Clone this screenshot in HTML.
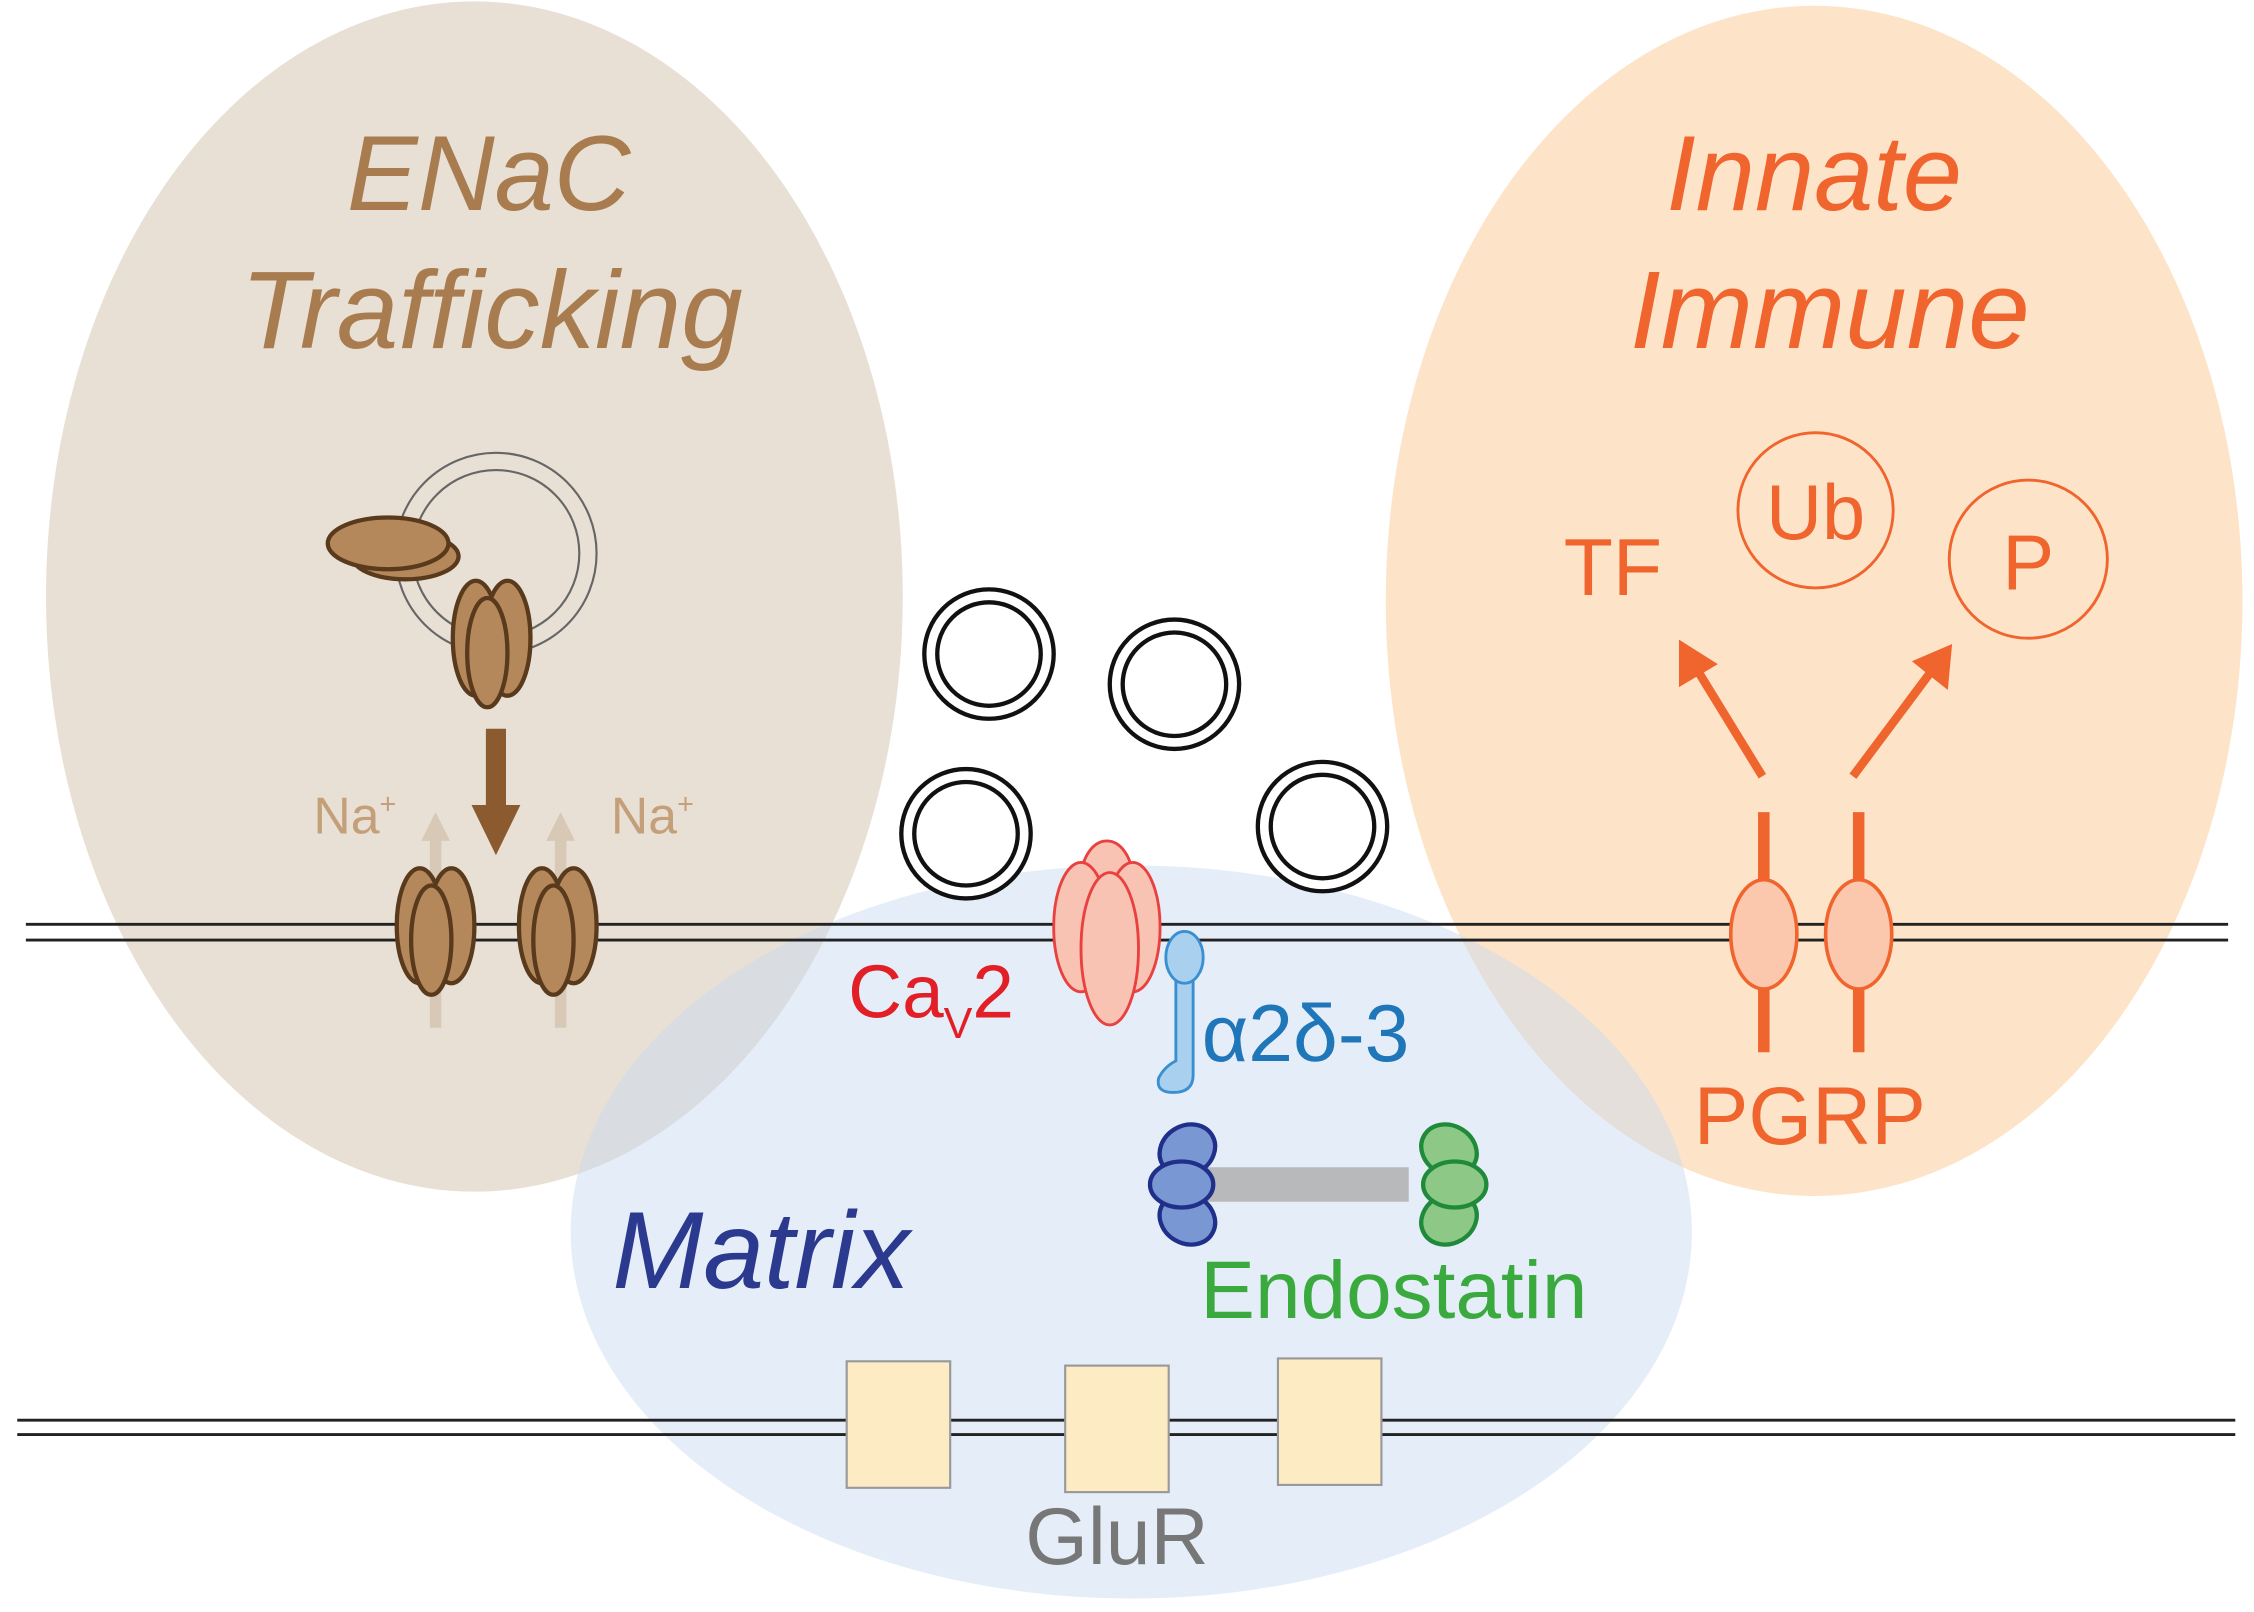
<!DOCTYPE html>
<html><head><meta charset="utf-8"><style>
html,body{margin:0;padding:0;background:#fff;}
svg{display:block;}
text{font-family:"Liberation Sans","DejaVu Sans",sans-serif;}
</style></head><body>
<svg width="2254" height="1612" viewBox="0 0 1568 1121.4" xmlns="http://www.w3.org/2000/svg">
<defs>
<g id="ch">
<ellipse cx="-11" cy="-4" rx="16" ry="40" fill="#b4885b" stroke="#5a3a1c" stroke-width="3"/>
<ellipse cx="11" cy="-4" rx="16" ry="40" fill="#b4885b" stroke="#5a3a1c" stroke-width="3"/>
<ellipse cx="-3" cy="6" rx="14" ry="38" fill="#b4885b" stroke="#5a3a1c" stroke-width="3"/>
</g>
<g id="ves">
<circle r="45" fill="#fff" stroke="#111" stroke-width="3"/>
<circle r="36" fill="none" stroke="#111" stroke-width="3"/>
</g>
</defs>
<rect width="1568" height="1122" fill="#fff"/>
<ellipse cx="330" cy="415" rx="298" ry="414" fill="#e9e0d5"/>
<ellipse cx="1262" cy="418" rx="298" ry="414" fill="#fde4c9"/>
<ellipse cx="787" cy="857" rx="390" ry="255" fill="#c6d9ef" fill-opacity="0.45"/>

<line x1="18" y1="643" x2="1550" y2="643" stroke="#222" stroke-width="2"/>
<line x1="18" y1="654" x2="1550" y2="654" stroke="#222" stroke-width="2"/>
<line x1="12" y1="988" x2="1555" y2="988" stroke="#222" stroke-width="2"/>
<line x1="12" y1="998" x2="1555" y2="998" stroke="#222" stroke-width="2"/>

<text x="340" y="146" font-size="74" font-style="italic" fill="#a87c4f" text-anchor="middle">ENaC</text>
<text x="342" y="242" font-size="77" font-style="italic" fill="#a87c4f" text-anchor="middle">Trafficking</text>
<text x="1262" y="146" font-size="74" font-style="italic" fill="#f0642d" text-anchor="middle">Innate</text>
<text x="1273" y="242" font-size="77" font-style="italic" fill="#f0642d" text-anchor="middle">Immune</text>

<circle cx="345" cy="385" r="70" fill="none" stroke="#666" stroke-width="1.5"/>
<circle cx="345" cy="385" r="58" fill="none" stroke="#666" stroke-width="1.5"/>
<ellipse cx="282" cy="387" rx="37" ry="16" fill="#b4885b" stroke="#5a3a1c" stroke-width="3"/>
<ellipse cx="270" cy="378" rx="42" ry="18" fill="#b4885b" stroke="#5a3a1c" stroke-width="3"/>
<use href="#ch" x="342" y="448"/>
<polygon points="338,507 352,507 352,560 362,560 345,595 328,560 338,560" fill="#8b5a2f"/>
<line x1="303" y1="715" x2="303" y2="580" stroke="#d8c8b6" stroke-width="8"/>
<polygon points="293,585 313,585 303,565" fill="#d8c8b6"/>
<line x1="390" y1="715" x2="390" y2="580" stroke="#d8c8b6" stroke-width="8"/>
<polygon points="380,585 400,585 390,565" fill="#d8c8b6"/>
<text x="218" y="580" font-size="36" fill="#c4a07a">Na<tspan font-size="20" dy="-14">+</tspan></text>
<text x="425" y="580" font-size="36" fill="#c4a07a">Na<tspan font-size="20" dy="-14">+</tspan></text>
<use href="#ch" x="303" y="648"/>
<use href="#ch" x="388" y="648"/>

<use href="#ves" x="688" y="455"/>
<use href="#ves" x="817" y="476"/>
<use href="#ves" x="672" y="580"/>
<use href="#ves" x="920" y="575"/>

<g fill="#f9c3b4" stroke="#e8413f" stroke-width="2">
<ellipse cx="770" cy="612" rx="18" ry="27"/>
<ellipse cx="752" cy="645" rx="19" ry="45"/>
<ellipse cx="788" cy="645" rx="19" ry="45"/>
<ellipse cx="772" cy="660" rx="20" ry="53"/>
</g>
<text x="590" y="708" font-size="52" fill="#e21f26">Ca<tspan font-size="30" dy="14">V</tspan><tspan dy="-14">2</tspan></text>
<path d="M818,682 L830,682 L830,748 Q830,760 816,760 Q804,760 806,750 Q810,742 818,738 Z" fill="#a9d0ef" stroke="#3a8fd0" stroke-width="2"/>
<ellipse cx="824" cy="666" rx="13" ry="18" fill="#a9d0ef" stroke="#3a8fd0" stroke-width="2"/>
<text x="836" y="738" font-size="56" fill="#1f76b8">α2δ-3</text>

<rect x="840" y="812" width="140" height="24" fill="#b8b9bb"/>
<g fill="#7997d2" stroke="#1f2f8a" stroke-width="3">
<ellipse cx="826" cy="800" rx="20" ry="17" transform="rotate(-30 826 800)"/>
<ellipse cx="826" cy="848" rx="20" ry="17" transform="rotate(30 826 848)"/>
<ellipse cx="822" cy="824" rx="22" ry="16"/>
</g>
<g fill="#8dc886" stroke="#1f8a3a" stroke-width="3">
<ellipse cx="1008" cy="800" rx="20" ry="17" transform="rotate(30 1008 800)"/>
<ellipse cx="1008" cy="848" rx="20" ry="17" transform="rotate(-30 1008 848)"/>
<ellipse cx="1012" cy="824" rx="22" ry="16"/>
</g>
<text x="426" y="896" font-size="76" font-style="italic" fill="#2b3a8f">Matrix</text>
<text x="835" y="917" font-size="57" fill="#3aaa3f">Endostatin</text>

<g fill="#fdebc4" stroke="#999" stroke-width="1.5">
<rect x="589" y="947" width="72" height="88"/>
<rect x="741" y="950" width="72" height="88"/>
<rect x="889" y="945" width="72" height="88"/>
</g>
<text x="777" y="1088" font-size="56" fill="#777" text-anchor="middle">GluR</text>

<circle cx="1263" cy="355" r="54" fill="none" stroke="#f0642d" stroke-width="2"/>
<text x="1263" y="375" font-size="54" fill="#f0642d" text-anchor="middle">Ub</text>
<circle cx="1411" cy="389" r="55" fill="none" stroke="#f0642d" stroke-width="2"/>
<text x="1411" y="410" font-size="54" fill="#f0642d" text-anchor="middle">P</text>
<text x="1122" y="414" font-size="56" fill="#f0642d" text-anchor="middle">TF</text>
<line x1="1226" y1="540" x2="1180" y2="465" stroke="#f0642d" stroke-width="6"/>
<polygon points="1168,445 1168,478 1195,462" fill="#f0642d"/>
<line x1="1289" y1="540" x2="1345" y2="465" stroke="#f0642d" stroke-width="6"/>
<polygon points="1358,448 1330,460 1355,480" fill="#f0642d"/>
<g stroke="#f0642d" stroke-width="8">
<line x1="1227" y1="565" x2="1227" y2="732"/>
<line x1="1293" y1="565" x2="1293" y2="732"/>
</g>
<g fill="#fbc8ae" stroke="#f0642d" stroke-width="2.5">
<ellipse cx="1227" cy="650" rx="23" ry="38"/>
<ellipse cx="1293" cy="650" rx="23" ry="38"/>
</g>
<text x="1259" y="796" font-size="57" fill="#f0642d" text-anchor="middle">PGRP</text>
</svg>
</body></html>
